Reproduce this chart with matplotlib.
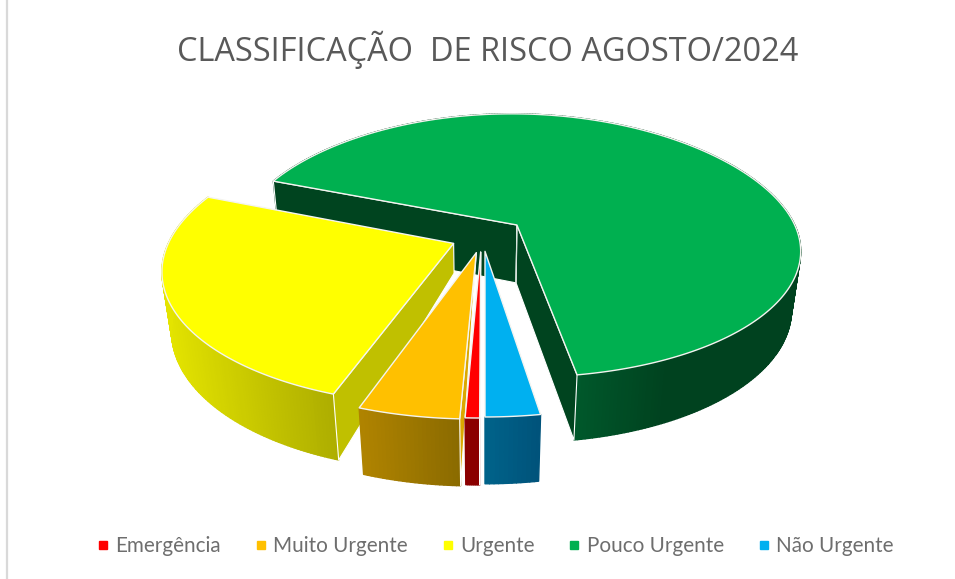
import numpy as np
import matplotlib
matplotlib.use("Agg")
import matplotlib.pyplot as plt
from matplotlib.collections import PolyCollection
from matplotlib.patches import Polygon
from matplotlib.lines import Line2D
from matplotlib.colors import to_rgb

title = "CLASSIFICAÇÃO  DE RISCO AGOSTO/2024"
categories = ["Emergência", "Muito Urgente", "Urgente", "Pouco Urgente", "Não Urgente"]
values = [0.65, 4.65, 25.7, 66.5, 2.5]
colors = ["#FF0000", "#FFC000", "#FFFF00", "#00B050", "#00B0F0"]

# styling / projection of the 3-D exploded pie
rim_a = ["#8B0000", "#B08400", "#E4E400", "#00582B", "#00638A"]
rim_b = ["#8B0000", "#8A6A00", "#ADAD00", "#00421F", "#00527A"]
wall_col = ["#F0A0A0", "#DBA800", "#C0C000", "#00441F", "#00507A"]
walls = [[0], [0], [0], [0, -1], []]
offset = [(-0.015, -0.015), (-0.03, -0.02), (-0.11, 0.05), (0.115, 0.194), (0.0, -0.01)]
apex_z = [0.0, 0.0, 0.5, 1.0, 0.0]
CX, CY, RX, RY, P, H, Q = 485, 250, 288, 133.6, 0.19, 61.0, 0.03
STRETCH = 0.07
START = 180.0


def project(u, v, z=0.0):
    w = 1 + P * v + Q * z
    return CX + RX * u / w, CY + (-RY * v + H * z) / w


fig = plt.figure(figsize=(9.55, 5.79), dpi=100)
ax = fig.add_axes([0, 0, 1, 1])
ax.set_xlim(0, 955)
ax.set_ylim(579, 0)
ax.axis("off")

ax.plot([7, 7], [0, 579], color="#D9D9D9", lw=1.6, solid_capstyle="butt")

edges = np.cumsum([0] + values) / sum(values) * 360 + START
draw_order = [3, 2, 1, 0, 4]
z = 2

for i in draw_order:
    a0, a1 = np.radians(edges[i]), np.radians(edges[i + 1])
    du, dv = offset[i]
    th = np.linspace(a0, a1, max(8, int((edges[i + 1] - edges[i]) * 1.5)))
    c = np.cos(th)
    u, v = du + np.sin(th), dv + c * (1 + STRETCH * np.clip(c, 0, None))
    top = np.column_stack(project(u, v, 0))
    bot = np.column_stack(project(u, v, 1))
    apex = project(du, dv, 0)
    apex_b = project(du, dv, apex_z[i])

    # curved rim with a horizontal colour gradient
    quads, cols = [], []
    ca, cb = np.array(to_rgb(rim_a[i])), np.array(to_rgb(rim_b[i]))
    xs = top[:, 0]
    lo, hi = xs.min(), xs.max()
    for k in range(len(th) - 1):
        xm = (xs[k] + xs[k + 1]) / 2
        if i == 3:
            t = np.clip((xm - top[-1, 0]) / 90, 0, 1) if xm >= top[-1, 0] else 1.0
        else:
            t = (xm - lo) / max(hi - lo, 1)
        cols.append(ca * (1 - t) + cb * t)
        quads.append([top[k], top[k + 1], bot[k + 1], bot[k]])
    z += 1
    ax.add_collection(PolyCollection(quads, facecolors=cols, edgecolors=cols, linewidths=1.0, zorder=z))

    # flat walls, over the hidden back of the rim
    for k in walls[i]:
        wall = [apex, top[k], bot[k], apex_b]
        z += 1
        ax.add_patch(Polygon(wall, closed=True, fc=wall_col[i], ec="white", lw=0.8, joinstyle="round", zorder=z))
    if i == 3:
        z += 1
        ax.plot([apex[0], apex_b[0]], [apex[1], apex_b[1]], color="#D8E4DC", lw=0.9, zorder=z)

    # top face
    z += 1
    ax.add_patch(Polygon(np.vstack([apex, top]), closed=True, fc=colors[i], ec="#F4F4F0", lw=1.0,
                         joinstyle="round", zorder=z))

ax.text(488, 50, title, ha="center", va="center", fontsize=23.4, color="#595959", family="Open Sans")

handles = [Line2D([], [], ls="", marker="s", ms=6.2, mfc=c, mec=c) for c in colors]
fig.legend(handles, categories, ncol=5, frameon=False, loc="center", bbox_to_anchor=(492 / 955, 1 - 546 / 579),
           prop={"family": "Lato", "size": 14.9}, labelcolor="#6E6E6E", handletextpad=0.0, columnspacing=1.33,
           handlelength=1.2)

fig.savefig("out.png", dpi=100)
